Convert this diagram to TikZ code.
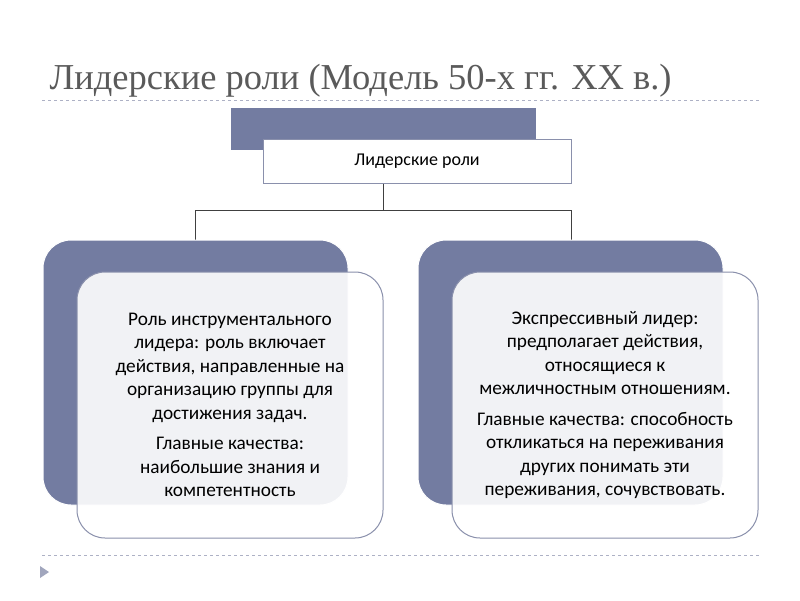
\documentclass[tikz,border=0pt]{standalone}
\usepackage{fontspec}
\setmainfont{Carlito}
\newfontfamily\titlefont{Liberation Serif}
\definecolor{dark}{HTML}{737CA1}
\definecolor{edge}{HTML}{8A90AC}
\definecolor{ttl}{HTML}{5A5A5A}
\begin{document}
\begin{tikzpicture}[x=1pt,y=-1pt,
  darkbox/.style={fill=dark,draw=white,line width=1pt,rounded corners=28pt},
  lightbox/.style={fill=white,fill opacity=0.9,draw=edge,line width=1pt,rounded corners=28pt,text opacity=1},
  txt/.style={align=center,font=\fontsize{19.3}{23.5}\selectfont,text=black},
  conn/.style={draw=black!75,line width=0.8pt}]
\useasboundingbox (0,0) rectangle (800,600);
\fill[white] (0,0) rectangle (800,600);
\node[anchor=base west,font=\titlefont\fontsize{36.5}{40}\selectfont,text=ttl] (title) at (46,89) {Лидерские роли (Модель 50-х гг. XX в.)};
\draw[dashed,draw=edge!70,line width=0.6pt] (42,100) -- (760,100);
\draw[dashed,draw=edge!70,line width=0.6pt] (42,555) -- (760,555);
\fill[edge!80] (40,566) -- (49,572) -- (40,578) -- cycle;
\fill[dark] (231,108) rectangle (536,150);
\node[draw=edge,fill=white,line width=1pt,minimum width=308pt,minimum height=44pt,font=\fontsize{18}{21}\selectfont] (root) at (417,161) {Лидерские роли};
\coordinate (j) at (383,210);
\coordinate (l) at (195,240);
\coordinate (r) at (571,240);
\draw[conn] (root.south -| j) -- (j) -| (l);
\draw[conn] (j) -| (r);
\draw[darkbox] (43,240) rectangle (348,505);
\draw[lightbox] (77,272) rectangle (383,538);
\draw[darkbox] (418,240) rectangle (723,505);
\draw[lightbox] (452,272) rectangle (758,538);
\node[txt] (lt) at (230,405) {Роль инструментального\\лидера: роль включает\\действия, направленные на\\организацию группы для\\достижения задач.\\[7pt]Главные качества:\\наибольшие знания и\\компетентность};
\node[txt] (rt) at (605,405) {Экспрессивный лидер:\\предполагает действия,\\относящиеся к\\межличностным отношениям.\\[7pt]Главные качества: способность\\откликаться на переживания\\других понимать эти\\переживания, сочувствовать.};
\end{tikzpicture}
\end{document}
